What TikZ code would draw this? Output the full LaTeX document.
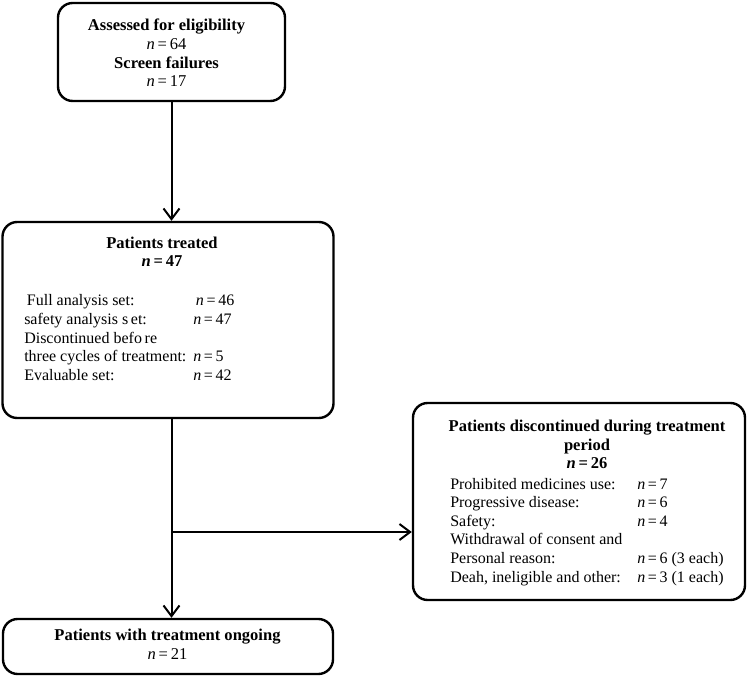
\documentclass[tikz,border=0pt]{standalone}
\usepackage{fontspec}
\setmainfont{Liberation Serif}
\usetikzlibrary{arrows.meta}

\tikzset{
  flowbox/.style={draw, line width=1.8pt, rounded corners=11pt, inner sep=0pt},
  boxtext/.style={inner sep=0pt, align=center, font=\fontsize{12.4}{14}\selectfont},
  listtext/.style={inner sep=0pt, font=\fontsize{12}{14}\selectfont},
  flowarrow/.style={line width=1.5pt, -{Straight Barb[length=8pt,width=12pt]}}
}

\begin{document}
\begin{tikzpicture}[x=0.75pt, y=-0.75pt]
 			%%%	Frame
 			\useasboundingbox (0,0) rectangle (747,677);
 			%%%	Boxes
 			\node[flowbox, minimum width=170.25pt, minimum height=73.5pt] (elig) at (171.5,52) {};
 			\node[flowbox, minimum width=248.25pt, minimum height=147pt] (treated) at (168,320) {};
 			\node[flowbox, minimum width=247.5pt, minimum height=41.25pt] (ongoing) at (168,646.5) {};
 			\node[flowbox, minimum width=249pt, minimum height=147.75pt] (discont) at (579,501.5) {};
 			%%%	Texts (base = last line)
 			\node[boxtext, anchor=base] (eligtxt) at (166.5,87)
 			  {\textbf{Assessed for eligibility}\\ \textit{n}\,=\,64\\ \textbf{Screen failures}\\ \textit{n}\,=\,17};
 			\node[boxtext, anchor=base] (treatedhead) at (162,267)
 			  {\textbf{Patients treated}\\ \textbf{\textit{n}\,=\,47}};
 			\node[listtext, anchor=base west] (treatedlist) at (24,306)
 			  {\begin{tabular}[t]{@{}p{126.75pt}@{}l@{}}
 			   \,Full analysis set: & \,\textit{n}\,=\,46\\
 			   safety analysis s\,et: & \textit{n}\,=\,47\\
 			   Discontinued befo\,re & \\
 			   three cycles of treatment: & \textit{n}\,=\,5\\
 			   Evaluable set: & \textit{n}\,=\,42
 			   \end{tabular}};
 			\node[boxtext, anchor=base] (discnthead) at (587,469)
 			  {\textbf{Patients discontinued during treatment}\\ \textbf{period}\\ \textbf{\textit{n}\,=\,26}};
 			\node[listtext, anchor=base west] (discntlist) at (450,489)
 			  {\begin{tabular}[t]{@{}p{140.25pt}@{}l@{}}
 			   Prohibited medicines use: & \textit{n}\,=\,7\\
 			   Progressive disease: & \textit{n}\,=\,6\\
 			   Safety: & \textit{n}\,=\,4\\
 			   Withdrawal of consent and & \\
 			   Personal reason: & \textit{n}\,=\,6 (3 each)\\
 			   Deah, ineligible and other: & \textit{n}\,=\,3 (1 each)
 			   \end{tabular}};
 			\node[boxtext, anchor=base] (ongoingtxt) at (167.5,659)
 			  {\textbf{Patients with treatment ongoing}\\ \textit{n}\,=\,21};
 			%%%	Arrows
 			\coordinate (branch) at (172,532);
 			\draw[flowarrow] (elig.south) -- (elig.south |- treated.north);
 			\draw[flowarrow] (elig.south |- treated.south) -- (elig.south |- ongoing.north);
 			\draw[flowarrow] (branch) -- (branch -| discont.west);
\end{tikzpicture}
\end{document}
